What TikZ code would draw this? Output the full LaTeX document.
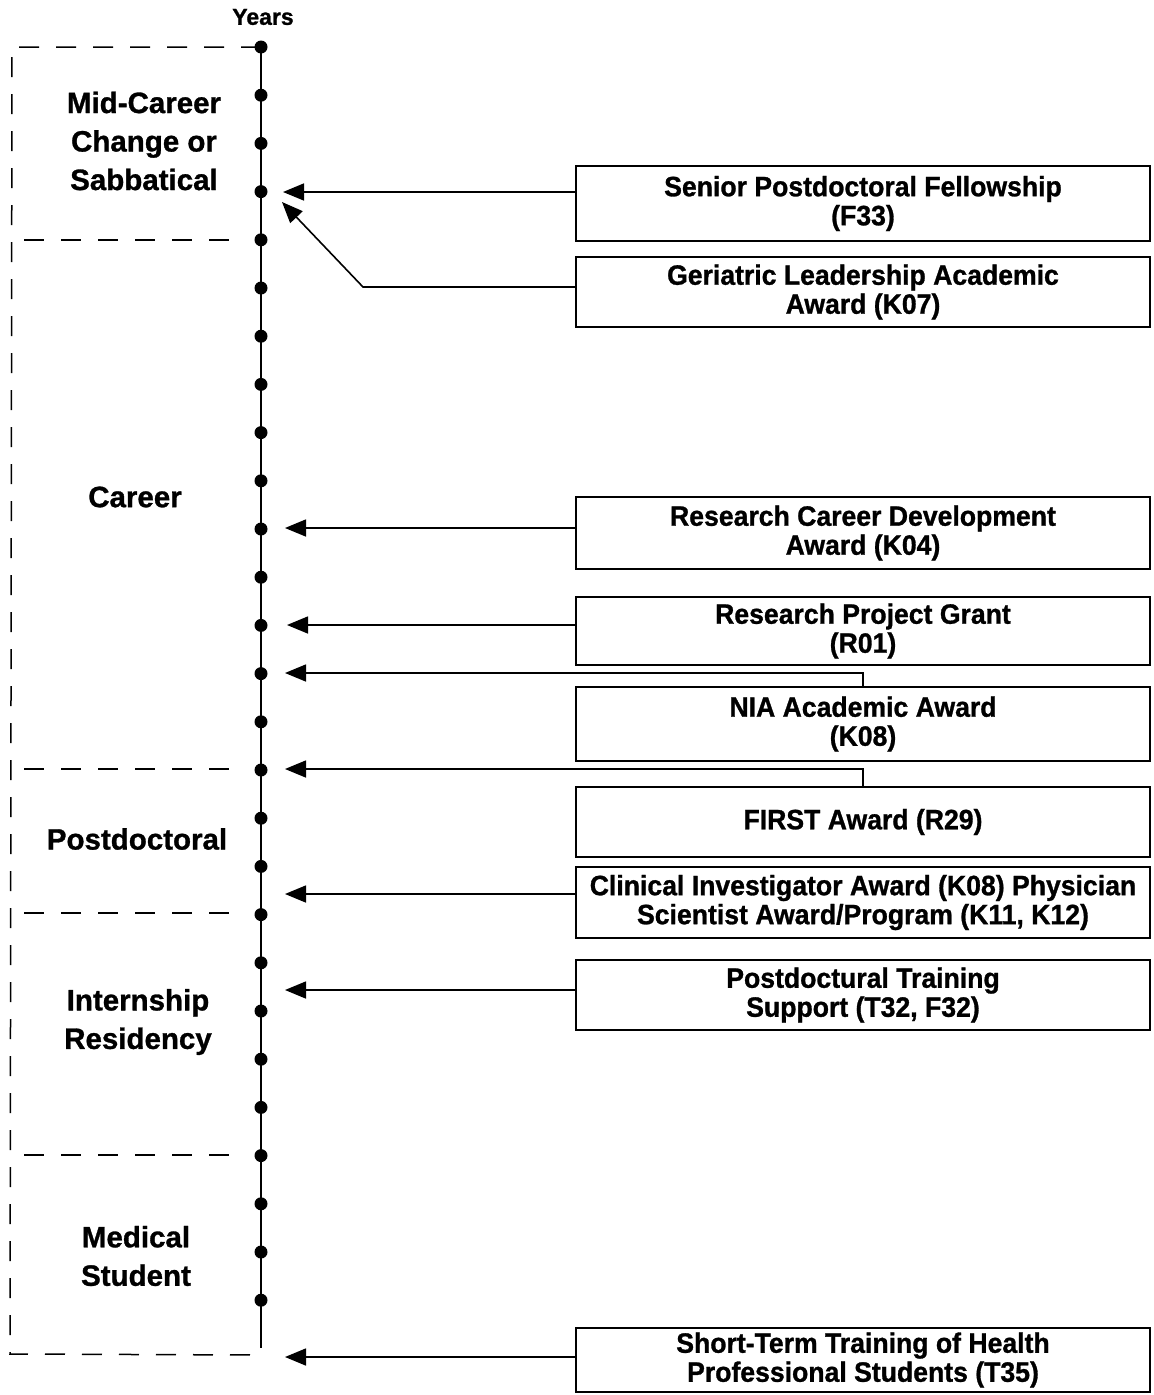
\documentclass[tikz,border=0pt]{standalone}
\usepackage{fontspec}
\setmainfont{Liberation Sans}[FakeBold=1]
\newfontfamily\narrowfont{Liberation Sans}[FakeStretch=0.95, FakeBold=1]
\usetikzlibrary{arrows.meta}

\begin{document}
\begin{tikzpicture}[x=1pt, y=-1pt,
        dot/.style={circle, fill, inner sep=0pt, minimum size=13pt},
        phase/.style={font=\bfseries\fontsize{29.5}{38.5}\selectfont, align=center},
        award/.style={draw, line width=2pt, fill=white, minimum width=574pt, minimum height=70pt, inner sep=0pt, align=center, font=\narrowfont\bfseries\fontsize{28}{29}\selectfont},
        arr/.style={line width=1.6pt, -{Triangle[length=21pt, width=17pt]}},
        sep/.style={line width=1.5pt, dash pattern=on 20pt off 17pt}]
        \useasboundingbox (0,0) rectangle (1154,1395);
        \node (years) at (263,17) {\bfseries\fontsize{23}{26}\selectfont Years};
        \foreach \i in {1,...,27}
            \node[dot] (d\i) at (261, {47+48.2*(\i-1)}) {};
        \coordinate (axisend) at (261,1348);
        \draw[line width=1.6pt] (d1.center) -- (axisend);
        \draw[sep] (d1.center) -- (12,47) -- (10,1354) -- (261,1355);
        \foreach \y in {240,769,913,1155}
            \draw[sep] (24,\y) -- (244,\y);
        \node[phase] (mid) at (144,141) {Mid-Career\\Change or\\Sabbatical};
        \node[phase] (career) at (135,497) {Career};
        \node[phase] (postdoc) at (137,839) {Postdoctoral};
        \node[phase] (intern) at (138,1022) {Internship\\Residency};
        \node[phase] (med) at (136,1256) {Medical\\Student};
        \node[award, minimum height=75pt] (F33) at (863,203.5) {Senior Postdoctoral Fellowship\\(F33)};
        \node[award] (K07) at (863,292) {Geriatric Leadership Academic\\Award (K07)};
        \node[award, minimum height=72pt] (K04) at (863,533) {Research Career Development\\Award (K04)};
        \node[award, minimum height=68pt] (R01) at (863,631) {Research Project Grant\\(R01)};
        \node[award, minimum height=74pt] (K08) at (863,724) {NIA Academic Award\\(K08)};
        \node[award] (R29) at (863,822) {FIRST Award (R29)};
        \node[award, minimum height=71pt] (K11) at (863,902.5) {Clinical Investigator Award (K08) Physician\\Scientist Award/Program (K11, K12)};
        \node[award] (T32) at (863,995) {Postdoctural Training\\Support (T32, F32)};
        \node[award, minimum height=64pt] (T35) at (863,1360) {Short-Term Training of Health\\Professional Students (T35)};
        \coordinate (t1) at (283,192);
        \coordinate (t2) at (282,202);
        \coordinate (bend) at (363,287);
        \coordinate (t3) at (285,528);
        \coordinate (t4) at (287,625);
        \coordinate (t5) at (285,673);
        \coordinate (t6) at (285,769);
        \coordinate (t7) at (285,894);
        \coordinate (t8) at (285,990);
        \coordinate (t9) at (285,1357);
        \draw[arr] (F33.west |- t1) -- (t1);
        \draw[arr] (K07.west |- bend) -- (bend) -- (t2);
        \draw[arr] (K04.west |- t3) -- (t3);
        \draw[arr] (R01.west |- t4) -- (t4);
        \draw[arr] (K08.north) |- (t5);
        \draw[arr] (R29.north) |- (t6);
        \draw[arr] (K11.west |- t7) -- (t7);
        \draw[arr] (T32.west |- t8) -- (t8);
        \draw[arr] (T35.west |- t9) -- (t9);
\end{tikzpicture}
\end{document}
